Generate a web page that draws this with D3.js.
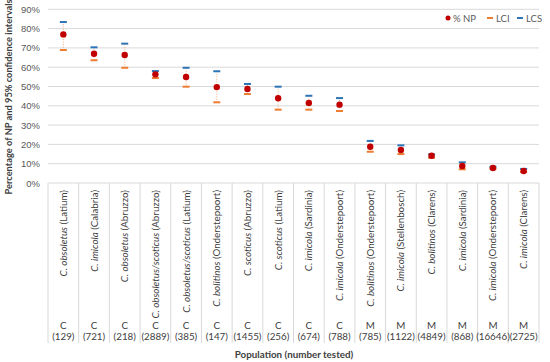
<!DOCTYPE html>
<html>
<head>
<meta charset="utf-8">
<script src="https://cdn.jsdelivr.net/npm/d3@7"></script>
<style>
  body { margin: 0; background: #fff; }
  svg { font-family: Lato, "Open Sans", sans-serif; }
  .tick-label { font-size: 9.5px; fill: #595959; }
  .cat-label { font-size: 9.8px; fill: #404040; }
</style>
</head>
<body>
<div id="chart"></div>
<script>
// Populations (species in italics, place in normal type)
const species = ["C. obsoletus", "C. imicola", "C. obsoletus", "C. obsoletus/scoticus", "C. obsoletus/scoticus",
  "C. bolitinos", "C. scoticus", "C. scoticus", "C. imicola", "C. imicola",
  "C. bolitinos", "C. imicola", "C. bolitinos", "C. imicola", "C. imicola", "C. imicola"];
const places = ["Latium", "Calabria", "Abruzzo", "Abruzzo", "Latium",
  "Onderstepoort", "Abruzzo", "Latium", "Sardinia", "Onderstepoort",
  "Onderstepoort", "Stellenbosch", "Clarens", "Sardinia", "Onderstepoort", "Clarens"];
const groups = ["C", "C", "C", "C", "C", "C", "C", "C", "C", "C", "M", "M", "M", "M", "M", "M"];
const tested = [129, 721, 218, 2889, 385, 147, 1455, 256, 674, 788, 785, 1122, 4849, 868, 16646, 2725];

// Values in %
const npValues  = [77.0, 67.0, 66.3, 56.3, 54.9, 49.7, 48.7, 43.9, 41.5, 40.6, 18.8, 17.1, 14.1, 8.8, 7.8, 6.2];
const lciValues = [68.9, 63.6, 59.7, 54.4, 49.9, 41.8, 46.1, 38.0, 38.0, 37.3, 16.2, 15.0, 13.1, 7.1, 7.4, 5.7];
const lcsValues = [83.4, 70.3, 72.2, 58.0, 59.7, 57.9, 51.3, 49.9, 45.2, 44.0, 21.8, 19.5, 14.8, 10.7, 8.4, 7.3];

const yTicks = [0, 10, 20, 30, 40, 50, 60, 70, 80, 90];

const colors = {
    np: "#c00000",
    lci: "#ed7d31",
    lcs: "#2e75b6",
    whisker: "#f4b183",
    grid: "#d9d9d9"
};

const W = 550, H = 362;
const plot = {left: 48, right: 539, top: 9.3, bottom: 183};

const svg = d3.select("#chart").append("svg")
    .attr("width", W)
    .attr("height", H);

const idx = d3.range(species.length);

const x = d3.scaleBand()
    .domain(idx)
    .range([plot.left, plot.right]);

const y = d3.scaleLinear()
    .domain([0, 90])
    .range([plot.bottom, plot.top]);

// Gridlines
svg.append("g")
    .selectAll("line")
    .data(yTicks)
    .enter()
    .append("line")
    .attr("x1", plot.left)
    .attr("x2", plot.right)
    .attr("y1", d => y(d))
    .attr("y2", d => y(d))
    .style("stroke", colors.grid)
    .style("stroke-width", 1);

// Y axis labels
const yAxis = d3.axisLeft(y)
    .tickValues(yTicks)
    .tickSize(0)
    .tickPadding(8)
    .tickFormat(d => d + "%");

const yg = svg.append("g")
    .attr("transform", `translate(${plot.left},0)`)
    .call(yAxis);
yg.select(".domain").remove();
yg.selectAll("text")
    .attr("class", "tick-label")
    .style("font-family", null)
    .style("font-size", null);

// Category table dividers
const edges = idx.map(i => x(i)).concat([plot.right]);
svg.append("g")
    .selectAll("line")
    .data(edges)
    .enter()
    .append("line")
    .attr("x1", d => d)
    .attr("x2", d => d)
    .attr("y1", plot.bottom)
    .attr("y2", 343)
    .style("stroke", colors.grid)
    .style("stroke-width", 1);

// Category labels
const cats = svg.append("g");
idx.forEach(i => {
    const cx = x(i) + x.bandwidth() / 2;
    const t = cats.append("text")
        .attr("class", "cat-label")
        .attr("transform", `translate(${cx + 3.5},190) rotate(-90)`)
        .attr("text-anchor", "end");
    t.append("tspan").style("font-style", "italic").text(species[i]);
    t.append("tspan").text(" (" + places[i] + ")");

    cats.append("text")
        .attr("class", "cat-label")
        .attr("x", cx)
        .attr("y", 329)
        .attr("text-anchor", "middle")
        .text(groups[i]);
    cats.append("text")
        .attr("class", "cat-label")
        .attr("x", cx)
        .attr("y", 340)
        .attr("text-anchor", "middle")
        .text("(" + tested[i] + ")");
});

// Whiskers (dotted)
svg.append("g")
    .selectAll("line")
    .data(idx)
    .enter()
    .append("line")
    .attr("x1", i => x(i) + x.bandwidth() / 2)
    .attr("x2", i => x(i) + x.bandwidth() / 2)
    .attr("y1", i => y(lciValues[i]))
    .attr("y2", i => y(lcsValues[i]))
    .style("stroke", colors.whisker)
    .style("stroke-width", 1)
    .style("stroke-dasharray", "1,1.5");

// LCI and LCS dashes
function dashes(values, color) {
    svg.append("g")
        .selectAll("rect")
        .data(idx)
        .enter()
        .append("rect")
        .attr("x", i => x(i) + x.bandwidth() / 2 - 3.5)
        .attr("y", i => y(values[i]) - 1)
        .attr("width", 7)
        .attr("height", 2)
        .attr("fill", color);
}
dashes(lciValues, colors.lci);
dashes(lcsValues, colors.lcs);

// NP points
svg.append("g")
    .selectAll("circle")
    .data(idx)
    .enter()
    .append("circle")
    .attr("cx", i => x(i) + x.bandwidth() / 2)
    .attr("cy", i => y(npValues[i]))
    .attr("r", 3.2)
    .attr("fill", colors.np);

// Legend
const legend = svg.append("g").attr("transform", "translate(448,18)");
legend.append("circle").attr("cx", 0).attr("cy", 0).attr("r", 2.5).attr("fill", colors.np);
legend.append("text").attr("class", "tick-label").attr("x", 5).attr("y", 3.5).text("% NP");
legend.append("rect").attr("x", 39).attr("y", -1).attr("width", 6).attr("height", 2).attr("fill", colors.lci);
legend.append("text").attr("class", "tick-label").attr("x", 48).attr("y", 3.5).text("LCI");
legend.append("rect").attr("x", 69).attr("y", -1).attr("width", 6).attr("height", 2).attr("fill", colors.lcs);
legend.append("text").attr("class", "tick-label").attr("x", 78).attr("y", 3.5).text("LCS");

// Axis titles
svg.append("text")
    .attr("transform", `translate(12,97) rotate(-90)`)
    .attr("text-anchor", "middle")
    .style("font-size", "9.3px")
    .style("font-weight", "bold")
    .style("fill", "#404040")
    .text("Percentage of NP and 95% confidence intervals");

svg.append("text")
    .attr("x", 294)
    .attr("y", 358)
    .attr("text-anchor", "middle")
    .style("font-size", "9.8px")
    .style("font-weight", "bold")
    .style("fill", "#404040")
    .text("Population (number tested)");
</script>
</body>
</html>
